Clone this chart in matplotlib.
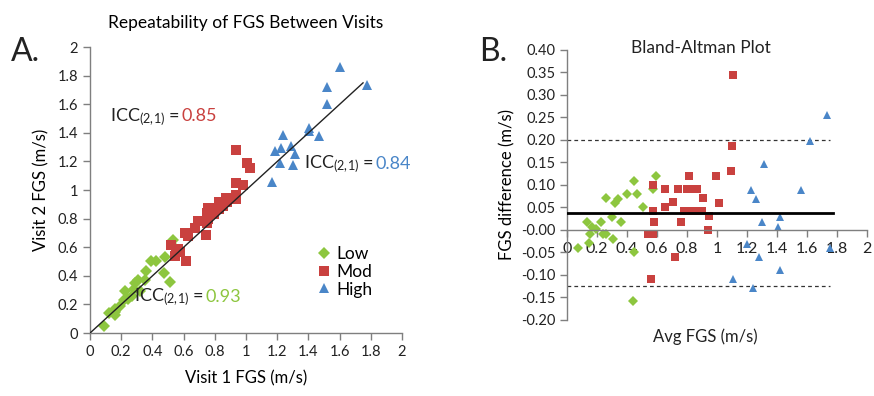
'''FGS repeatability: scatter of visit 1 vs visit 2 and Bland-Altman plot'''
import matplotlib
matplotlib.use('Agg')
import matplotlib.pyplot as plt
from matplotlib.transforms import offset_copy
import numpy as np

plt.rcParams['font.family'] = ['Lato', 'DejaVu Sans']
plt.rcParams['mathtext.default'] = 'regular'

GREEN = '#8DC63F'
RED = '#C9413F'
BLUE = '#4A86C8'
SPINE = '#7F7F7F'

# walking speed (m/s) at visit 1 and visit 2, by group
low_v1 = [0.092, 0.122, 0.158, 0.157, 0.161, 0.189, 0.215, 0.245, 0.267, 0.227, 0.282, 0.318,
          0.289, 0.306, 0.353, 0.357, 0.393, 0.423, 0.482, 0.524, 0.532, 0.471, 0.515]
low_v2 = [0.051, 0.140, 0.148, 0.127, 0.168, 0.190, 0.233, 0.235, 0.257, 0.297, 0.311, 0.297,
          0.348, 0.374, 0.371, 0.436, 0.501, 0.502, 0.532, 0.614, 0.651, 0.423, 0.358]
mod_v1 = [0.519, 0.549, 0.567, 0.547, 0.574, 0.613, 0.608, 0.628, 0.674, 0.691, 0.746, 0.751,
          0.756, 0.754, 0.753, 0.786, 0.824, 0.793, 0.825, 0.851, 0.878, 0.874, 0.938, 0.934,
          0.934, 0.980, 1.026, 1.005, 0.937]
mod_v2 = [0.619, 0.590, 0.585, 0.537, 0.564, 0.503, 0.698, 0.678, 0.735, 0.781, 0.687, 0.769,
          0.797, 0.873, 0.843, 0.876, 0.914, 0.834, 0.866, 0.892, 0.919, 0.944, 0.938, 0.964,
          1.053, 1.039, 1.156, 1.192, 1.281]
high_v1 = [1.603, 1.521, 1.240, 1.183, 1.226, 1.516, 1.290, 1.406, 1.406, 1.218, 1.311, 1.465,
           1.164, 1.303, 1.774]
high_v2 = [1.859, 1.719, 1.387, 1.272, 1.294, 1.605, 1.307, 1.434, 1.413, 1.187, 1.250, 1.376,
           1.054, 1.173, 1.733]

groups = ['Low', 'Mod', 'High']
icc = ['0.93', '0.85', '0.84']
fit_end = 1.75
bias = 0.038
loa = [0.200, -0.124]
ticks_x = ['0', '0.2', '0.4', '0.6', '0.8', '1', '1.2', '1.4', '1.6', '1.8', '2']


def style_axis(ax):
	for side in ['top', 'right']:
		ax.spines[side].set_visible(False)
	for side in ['left', 'bottom']:
		ax.spines[side].set_color(SPINE)
		ax.spines[side].set_linewidth(1.0)
	ax.tick_params(colors=SPINE, labelcolor='#222222', length=5, width=1.0, labelsize=10.5)


def icc_label(fig, ax, x, y, value, color):
	t = ax.text(x, y, 'ICC$_{(2,\\!1)}$ = ', fontsize=13, color='#222222', va='baseline')
	width = t.get_window_extent(fig.canvas.get_renderer()).width
	tr = offset_copy(ax.transData, fig=fig, x=width, y=0, units='dots')
	ax.text(x, y, value, transform=tr, fontsize=13, color=color, va='baseline')


def main():
	fig = plt.figure(figsize=(8.74, 3.96), dpi=100)
	data = [(low_v1, low_v2, 'D', GREEN, 5.8), (mod_v1, mod_v2, 's', RED, 6.8),
	        (high_v1, high_v2, '^', BLUE, 7.2)]

	# A. visit 1 vs visit 2
	ax1 = fig.add_axes([0.103, 0.159, 0.357, 0.722])
	style_axis(ax1)
	ax1.plot([0, fit_end], [0, fit_end], color='#222222', lw=1.0, zorder=3)
	for (v1, v2, mk, col, ms), name in zip(data, groups):
		ax1.plot(v1, v2, mk, color=col, ms=ms, mew=0, label=name, zorder=2)
	ax1.set_xlim(0, 2)
	ax1.set_ylim(0, 2)
	ax1.set_xticks(np.arange(0, 2.01, 0.2))
	ax1.set_yticks(np.arange(0, 2.01, 0.2))
	ax1.set_xticklabels(ticks_x)
	ax1.set_yticklabels(ticks_x)
	ax1.set_xlabel('Visit 1 FGS (m/s)', fontsize=12, labelpad=8)
	ax1.set_ylabel('Visit 2 FGS (m/s)', fontsize=12, labelpad=6)
	ax1.set_title('Repeatability of FGS Between Visits', fontsize=12.5, pad=14)
	ax1.legend(loc='lower left', bbox_to_anchor=(0.7, 0.1), frameon=False, fontsize=12.5,
	           handletextpad=0.2, labelspacing=0.1, handlelength=1.0, borderaxespad=0)
	icc_label(fig, ax1, 0.13, 1.48, icc[1], RED)
	icc_label(fig, ax1, 1.37, 1.15, icc[2], BLUE)
	icc_label(fig, ax1, 0.28, 0.22, icc[0], GREEN)
	fig.text(0.012, 0.845, 'A.', fontsize=23, color='#222222')

	# B. Bland-Altman
	ax2 = fig.add_axes([0.649, 0.192, 0.343, 0.682])
	style_axis(ax2)
	ax2.spines['bottom'].set_position(('data', 0))
	ax2.axhline(bias, xmin=0, xmax=1.77 / 2, color='black', lw=2.0, zorder=3)
	for lim in loa:
		ax2.axhline(lim, xmin=0, xmax=1.75 / 2, color='#333333', lw=0.9, ls=(0, (3, 2.5)), zorder=1)
	for v1, v2, mk, col, ms in data:
		v1 = np.array(v1)
		v2 = np.array(v2)
		ax2.plot((v1 + v2) / 2, v2 - v1, mk, color=col, ms=ms - 0.8, mew=0, zorder=2)
	ax2.set_xlim(0, 2)
	ax2.set_ylim(-0.2, 0.4)
	ax2.set_xticks(np.arange(0, 2.01, 0.2))
	ax2.set_xticklabels(ticks_x)
	ax2.set_yticks(np.arange(-0.2, 0.401, 0.05))
	ax2.set_yticklabels(['%.2f' % v for v in np.arange(-0.2, 0.401, 0.05)])
	ax2.tick_params(axis='x', labelsize=11.5)
	ax2.set_ylabel('FGS difference (m/s)', fontsize=12, labelpad=4)
	ax2.text(0.89, 0.404, 'Bland-Altman Plot', ha='center', va='center', fontsize=12.5, color='#222222')
	ax2.text(0.92, -0.218, 'Avg FGS (m/s)', ha='center', va='top', fontsize=12, color='#222222')
	fig.text(0.548, 0.845, 'B.', fontsize=23, color='#222222')

	plt.savefig('out.png', dpi=100)
	plt.close()


if __name__ == '__main__':
	main()
